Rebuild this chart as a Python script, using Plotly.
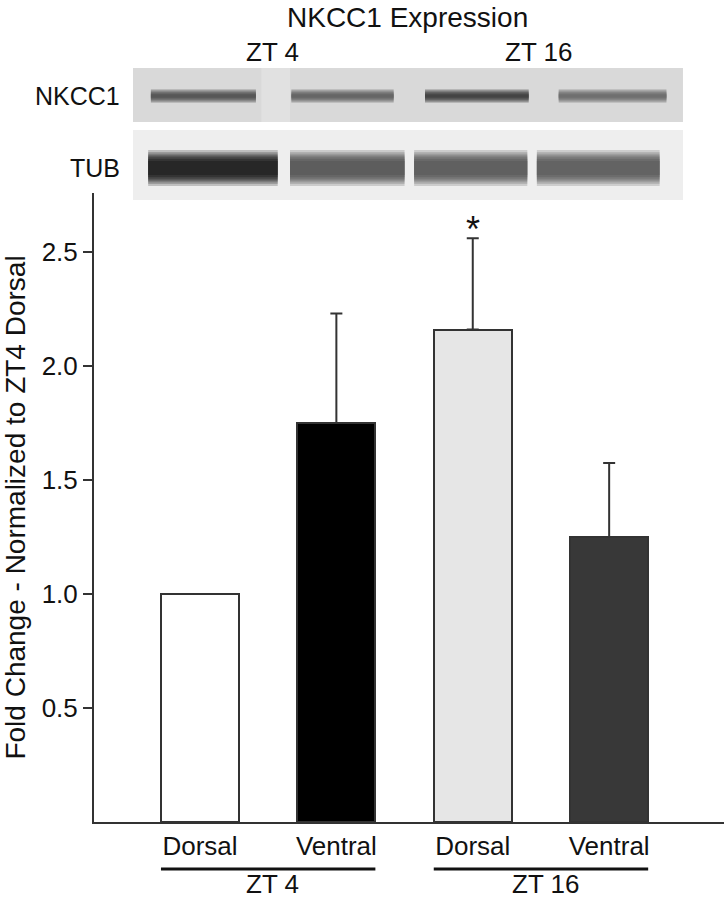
"""
NKCC1 expression - western blot plus fold change bar chart
"""
import plotly.graph_objects as go

# ---- data ----
groups = ["ZT 4", "ZT 16"]
regions = ["Dorsal", "Ventral", "Dorsal", "Ventral"]
fold_change = [1.0, 1.75, 2.16, 1.25]
err_plus = [None, 0.48, 0.40, 0.325]
bar_colors = ["#ffffff", "#000000", "#e6e6e6", "#383838"]
signif = ["", "", "*", ""]

# blot bands (lane extents in lane units, and band darkness)
nkcc1_band_left = [-0.36, 0.67, 1.65, 2.63]
nkcc1_band_right = [0.41, 1.42, 2.41, 3.42]
nkcc1_band_shade = ["#505050", "#606060", "#3c3c3c", "#6a6a6a"]
tub_band_left = [-0.38, 0.66, 1.57, 2.47]
tub_band_right = [0.57, 1.50, 2.40, 3.37]
tub_band_shade = ["#1c1c1c", "#555555", "#585858", "#5c5c5c"]

FONT = "Liberation Sans, Arial, Helvetica, sans-serif"
INK = "#111111"
LINE = "#333333"

x_pos = list(range(len(regions)))
BAR_W = 0.572

fig = go.Figure()

fig.add_trace(go.Bar(
    x=x_pos,
    y=fold_change,
    width=BAR_W,
    marker=dict(color=bar_colors, line=dict(color=LINE, width=2)),
    error_y=dict(type="data", symmetric=False, array=err_plus,
                 arrayminus=[0] * len(regions), color=LINE, thickness=2, width=6),
    showlegend=False,
    hoverinfo="skip",
))


def add_band(left, right, row, shade, core, halo):
    # 模糊边缘:外层淡而宽,内层深而窄
    steps = 6
    for k in range(steps):
        t = k / (steps - 1)
        w = halo + (core - halo) * t
        fig.add_trace(go.Scatter(
            x=[left, right], y=[row, row], mode="lines", yaxis="y2",
            line=dict(color=shade, width=w), opacity=0.22 + 0.3 * t,
            showlegend=False, hoverinfo="skip",
        ))


for i in range(len(regions)):
    add_band(nkcc1_band_left[i], nkcc1_band_right[i], 104, nkcc1_band_shade[i], 3, 14)
    add_band(tub_band_left[i], tub_band_right[i], 32, tub_band_shade[i], 14, 36)

shapes = [
    # blot panels
    dict(type="rect", xref="x", yref="y2", x0=-0.491, x1=3.541, y0=78, y1=132,
         fillcolor="#d9d9d9", line=dict(width=0), layer="below"),
    dict(type="rect", xref="x", yref="y2", x0=0.45, x1=0.66, y0=78, y1=132,
         fillcolor="#e1e1e1", line=dict(width=0), layer="below"),
    dict(type="rect", xref="x", yref="y2", x0=-0.491, x1=3.541, y0=0, y1=70,
         fillcolor="#eeeeee", line=dict(width=0), layer="below"),
]
# group underlines
for g in range(len(groups)):
    shapes.append(dict(type="line", xref="x", yref="paper",
                       x0=2 * g - BAR_W / 2, x1=2 * g + 1 + BAR_W / 2,
                       y0=-0.0617, y1=-0.0617, line=dict(color=INK, width=3)))


def label(text, x, y, size, xref="paper", yref="paper", xanchor="center"):
    return dict(text=text, xref=xref, yref=yref, x=x, y=y, xanchor=xanchor,
                yanchor="middle", showarrow=False,
                font=dict(size=size, color=INK, family=FONT))


annotations = [
    label("NKCC1 Expression", 0.497, 1.0564, 28),
    label("ZT 4", 0.284, 1.0105, 26),
    label("ZT 16", 0.706, 1.0105, 26),
    label("NKCC1", 0.0444, 104, 25, yref="y2", xanchor="right"),
    label("TUB", 0.0444, 32, 25, yref="y2", xanchor="right"),
]
for g, name in enumerate(groups):
    annotations.append(label(name, 2 * g + 0.53, -0.0814, 26, xref="x"))
for i, s in enumerate(signif):
    if s:
        annotations.append(dict(text=s, xref="x", yref="y", x=x_pos[i],
                                y=fold_change[i] + (err_plus[i] or 0), yanchor="bottom",
                                yshift=-14, showarrow=False,
                                font=dict(size=36, color=INK, family=FONT)))

fig.update_layout(
    width=724,
    height=900,
    plot_bgcolor="white",
    paper_bgcolor="white",
    margin=dict(l=94, r=0, t=60, b=78, autoexpand=False),
    font=dict(family=FONT, color=INK),
    shapes=shapes,
    annotations=annotations,
    bargap=0,
    xaxis=dict(
        range=[-0.777, 3.842], tickmode="array", tickvals=x_pos, ticktext=regions,
        tickfont=dict(size=26, color=INK), ticks="", showgrid=False, zeroline=False,
        showline=True, linecolor=LINE, linewidth=2, ticklabelstandoff=0,
        automargin=False, fixedrange=True,
    ),
    yaxis=dict(
        domain=[0, 0.8255], range=[0, 2.759], tickmode="array",
        tickvals=[0.5, 1.0, 1.5, 2.0, 2.5], tickformat=".1f",
        tickfont=dict(size=26, color=INK), ticks="outside", ticklen=9, tickwidth=2,
        tickcolor=LINE, showline=True, linecolor=LINE, linewidth=2,
        showgrid=False, zeroline=False, automargin=False, fixedrange=True,
        title=dict(text="Fold Change - Normalized to ZT4 Dorsal",
                   font=dict(size=28, color=INK), standoff=10),
    ),
    yaxis2=dict(domain=[0.8163, 0.9895], range=[0, 132], anchor="x", visible=False,
                fixedrange=True),
)

# 去掉页面 body 的默认 8px 边距,让图正好铺满窗口;隐藏工具栏
fig.write_html("out.html", config={"displayModeBar": False},
               post_script="document.body.style.margin = '0';")
